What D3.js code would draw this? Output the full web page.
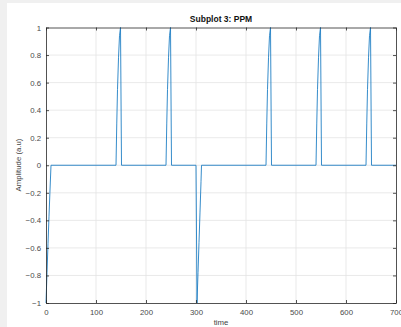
<!DOCTYPE html>
<html>
<head>
<meta charset="utf-8">
<script src="https://cdn.jsdelivr.net/npm/d3@7"></script>
<style>
  body { margin: 0; background: #f0f0f0; }
  svg { display: block; font-family: "Liberation Sans", Arial, sans-serif; }
</style>
</head>
<body>
<svg id="chart" width="401" height="327"></svg>
<script>
// PPM signal samples
const time = [0, 2, 4, 6, 8, 10,
  140, 141.5, 143, 145, 147, 149, 151,
  240, 241.5, 243, 245, 247, 249, 251,
  300, 302, 304, 306, 308, 310, 311,
  440, 441.5, 443, 445, 447, 449, 451,
  540, 541.5, 543, 545, 547, 549, 551,
  640, 641.5, 643, 645, 647, 649, 651,
  700];
const amplitude = [-1, -0.78, -0.57, -0.37, -0.18, 0,
  0, 0.3, 0.55, 0.78, 0.94, 1, 0,
  0, 0.3, 0.55, 0.78, 0.94, 1, 0,
  0, -1, -0.78, -0.56, -0.34, -0.12, 0,
  0, 0.3, 0.55, 0.78, 0.94, 1, 0,
  0, 0.3, 0.55, 0.78, 0.94, 1, 0,
  0, 0.3, 0.55, 0.78, 0.94, 1, 0,
  0];
const xTicks = [0, 100, 200, 300, 400, 500, 600, 700];
const yTicks = [-1, -0.8, -0.6, -0.4, -0.2, 0, 0.2, 0.4, 0.6, 0.8, 1];

const svg = d3.select("#chart");

// white figure area
svg.append("rect").attr("x", 7).attr("y", 3).attr("width", 394).attr("height", 324).attr("fill", "#fff");

const plotL = 46, plotR = 396, plotT = 27.5, plotB = 303;
const x = d3.scaleLinear().domain([0, 700]).range([plotL, plotR]);
const y = d3.scaleLinear().domain([-1, 1]).range([plotB, plotT]);

// grid
svg.append("g").selectAll("line").data(xTicks.slice(1, -1)).enter().append("line")
  .attr("x1", d => x(d)).attr("x2", d => x(d)).attr("y1", plotT).attr("y2", plotB)
  .attr("stroke", "#e3e3e3").attr("stroke-width", 0.8);
svg.append("g").selectAll("line").data(yTicks.slice(1, -1)).enter().append("line")
  .attr("x1", plotL).attr("x2", plotR).attr("y1", d => y(d)).attr("y2", d => y(d))
  .attr("stroke", "#e3e3e3").attr("stroke-width", 0.8);

// the signal
const pts = time.map((t, i) => [t, amplitude[i]]);
svg.append("path")
  .attr("d", d3.line().x(d => x(d[0])).y(d => y(d[1]))(pts))
  .attr("fill", "none").attr("stroke", "#1f7fc4").attr("stroke-width", 0.9);

// axes (ticks inside, box on)
const xAxisB = d3.axisBottom(x).tickValues(xTicks).tickSizeInner(-3).tickSizeOuter(0).tickPadding(6).tickFormat(d3.format("d"));
const xAxisT = d3.axisTop(x).tickValues(xTicks).tickSizeInner(-3).tickSizeOuter(0).tickFormat("");
const yAxisL = d3.axisLeft(y).tickValues(yTicks).tickSizeInner(-3).tickSizeOuter(0).tickPadding(5).tickFormat(d => d3.format("")(+d.toFixed(1)));
const yAxisR = d3.axisRight(y).tickValues(yTicks).tickSizeInner(-3).tickSizeOuter(0).tickFormat("");

function style(g) {
  g.select(".domain").attr("stroke", "#262626").attr("stroke-width", 0.8);
  g.selectAll(".tick line").attr("stroke", "#262626").attr("stroke-width", 0.8);
  g.selectAll("text").attr("fill", "#4a4a4a").attr("font-size", "7.8px")
    .attr("font-family", "Liberation Sans, Arial, sans-serif");
}
svg.append("g").attr("transform", `translate(0,${plotB})`).call(xAxisB).call(style);
svg.append("g").attr("transform", `translate(0,${plotT})`).call(xAxisT).call(style);
svg.append("g").attr("transform", `translate(${plotL},0)`).call(yAxisL).call(style);
svg.append("g").attr("transform", `translate(${plotR},0)`).call(yAxisR).call(style);

// title and labels
svg.append("text").attr("x", 221).attr("y", 22).attr("text-anchor", "middle")
  .attr("font-size", "8.5px").attr("font-weight", "bold").attr("fill", "#111")
  .text("Subplot 3: PPM");
svg.append("text").attr("x", 221).attr("y", 325).attr("text-anchor", "middle")
  .attr("font-size", "7.8px").attr("fill", "#444").text("time");
svg.append("text").attr("transform", "translate(21,165) rotate(-90)").attr("text-anchor", "middle")
  .attr("font-size", "7.8px").attr("fill", "#444").text("Amplitude (a.u)");
</script>
</body>
</html>
